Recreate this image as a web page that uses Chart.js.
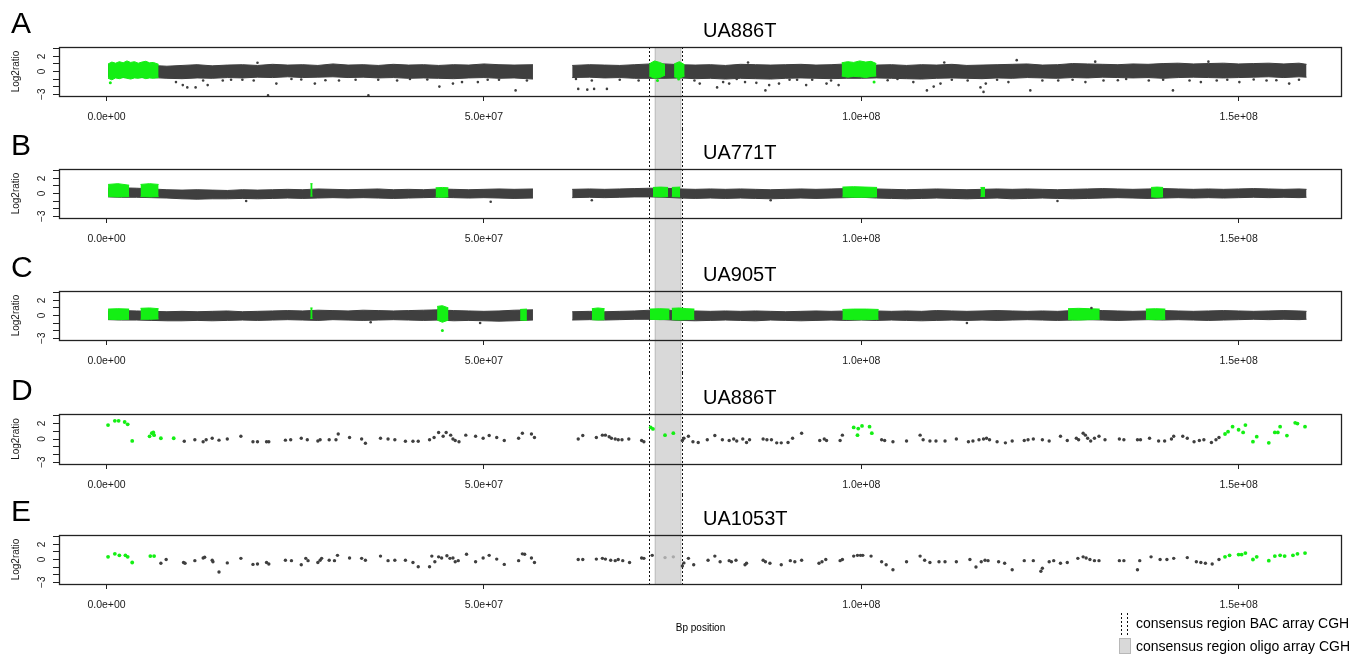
<!DOCTYPE html>
<html>
<head>
<meta charset="utf-8">
<script src="https://cdn.jsdelivr.net/npm/chart.js@4.4.1/dist/chart.umd.min.js"></script>
<style>
  html, body { margin: 0; padding: 0; background: #fff; }
  #wrap { position: relative; width: 1361px; height: 656px; overflow: hidden; }
  #wrap canvas { position: absolute; left: 0; }
</style>
</head>
<body>
<div id="wrap"></div>
<script>
// ---------- data (positions in Mb, values in log2 ratio) ----------
const xTicks = [0, 5e7, 1e8, 1.5e8];
const xTickLabels = ['0.0e+00', '5.0e+07', '1.0e+08', '1.5e+08'];
const yTicks = [-3, -2, -1, 0, 1, 2, 3];
const yTickLabels = ['\u22123', '', '', '0', '', '2', ''];
const panelLetters = ['A', 'B', 'C', 'D', 'E'];
const panelTitles = ['UA886T', 'UA771T', 'UA905T', 'UA886T', 'UA1053T'];
const bacRegion = [71.9, 76.2];
const oligoRegion = [72.7, 76.1];
const legendLabels = ['consensus region BAC array CGH', 'consensus region oligo array CGH'];

// dense probe clouds (A-C): upper / lower edge of the cloud
const bandX = [0.2, 2, 4, 6, 8, 10, 12, 14, 16, 18, 20, 22, 24, 26, 28, 30, 32, 34, 36, 38, 40, 42, 44, 46, 48, 50, 52, 54, 56.5, null,
  61.7, 64, 66, 68, 70, 72, 74, 76, 78, 80, 82, 84, 86, 88, 90, 92, 94, 96, 98, 100, 102, 104, 106, 108, 110, 112, 114, 116, 118, 120,
  122, 124, 126, 128, 130, 132, 134, 136, 138, 140, 142, 144, 146, 148, 150, 152, 154, 156, 158, 159];

const bandAHi = [0.9, 1.0, 0.9, 0.8, 0.7, 0.8, 0.9, 0.75, 0.85, 0.9, 0.8, 0.95, 0.85, 0.9, 0.8, 1.0, 0.85, 0.9, 0.8, 0.95, 0.85, 0.9, 0.8, 0.9, 0.85, 1.0, 0.9, 0.85, 0.9, null,
  0.8, 0.9, 0.85, 0.8, 0.9, 1.0, 1.0, 0.9, 0.85, 0.9, 0.8, 0.95, 0.9, 0.85, 0.9, 0.95, 0.85, 0.9, 1.0, 1.0, 0.85, 0.9, 0.8, 0.9, 0.85, 0.95, 0.8, 0.85, 0.9, 0.95,
  1.0, 0.85, 0.9, 1.05, 1.0, 0.95, 0.9, 1.0, 0.95, 1.05, 1.1, 1.0, 1.05, 1.1, 1.0, 1.05, 1.1, 1.0, 1.1, 0.95];
const bandALo = [-0.7, -0.75, -0.8, -0.8, -0.9, -0.95, -0.85, -0.9, -0.8, -0.85, -0.75, -0.8, -0.7, -0.8, -0.75, -0.7, -0.8, -0.75, -0.85, -0.8, -0.9, -0.85, -0.9, -0.95, -0.85, -0.8, -0.9, -0.85, -1.0, null,
  -0.8, -0.75, -0.85, -0.8, -0.9, -0.9, -0.9, -0.85, -0.95, -0.9, -1.0, -0.9, -0.95, -1.0, -0.9, -0.85, -0.9, -0.95, -0.9, -0.9, -0.85, -0.9, -0.95, -1.0, -0.9, -0.85, -0.9, -0.95, -0.85, -0.9,
  -0.8, -0.85, -0.9, -0.8, -0.85, -0.75, -0.8, -0.85, -0.8, -0.9, -0.8, -0.75, -0.8, -0.85, -0.8, -0.75, -0.7, -0.8, -0.7, -0.75];

const bandBHi = [0.7, 0.75, 0.7, 0.6, 0.5, 0.45, 0.5, 0.45, 0.4, 0.5, 0.45, 0.5, 0.55, 0.5, 0.6, 0.55, 0.5, 0.55, 0.6, 0.5, 0.55, 0.5, 0.6, 0.55, 0.5, 0.55, 0.6, 0.55, 0.6, null,
  0.55, 0.6, 0.55, 0.6, 0.65, 0.7, 0.7, 0.6, 0.55, 0.6, 0.55, 0.6, 0.55, 0.5, 0.55, 0.6, 0.55, 0.6, 0.65, 0.7, 0.6, 0.55, 0.5, 0.55, 0.6, 0.55, 0.5, 0.55, 0.6, 0.55,
  0.6, 0.55, 0.5, 0.55, 0.6, 0.65, 0.6, 0.55, 0.6, 0.65, 0.6, 0.55, 0.6, 0.55, 0.6, 0.65, 0.6, 0.55, 0.6, 0.55];
const bandBLo = [-0.45, -0.5, -0.5, -0.55, -0.6, -0.7, -0.75, -0.7, -0.7, -0.65, -0.7, -0.65, -0.6, -0.65, -0.6, -0.55, -0.6, -0.55, -0.6, -0.65, -0.6, -0.55, -0.5, -0.55, -0.6, -0.55, -0.6, -0.65, -0.6, null,
  -0.55, -0.5, -0.55, -0.5, -0.45, -0.45, -0.5, -0.6, -0.65, -0.6, -0.65, -0.6, -0.65, -0.7, -0.65, -0.6, -0.65, -0.6, -0.55, -0.5, -0.6, -0.65, -0.7, -0.65, -0.6, -0.65, -0.7, -0.65, -0.6, -0.7,
  -0.65, -0.6, -0.65, -0.7, -0.65, -0.6, -0.55, -0.6, -0.65, -0.6, -0.55, -0.6, -0.55, -0.6, -0.55, -0.5, -0.55, -0.5, -0.55, -0.5];

const bandCHi = [0.6, 0.65, 0.6, 0.55, 0.5, 0.55, 0.5, 0.55, 0.6, 0.5, 0.55, 0.6, 0.65, 0.6, 0.7, 0.65, 0.6, 0.7, 0.65, 0.6, 0.65, 0.7, 0.75, 0.65, 0.6, 0.55, 0.6, 0.7, 0.75, null,
  0.5, 0.55, 0.5, 0.55, 0.6, 0.7, 0.7, 0.65, 0.6, 0.55, 0.6, 0.55, 0.6, 0.55, 0.5, 0.55, 0.6, 0.55, 0.6, 0.65, 0.6, 0.55, 0.6, 0.55, 0.65, 0.6, 0.55, 0.6, 0.65, 0.6,
  0.55, 0.6, 0.55, 0.65, 0.7, 0.65, 0.6, 0.55, 0.6, 0.65, 0.6, 0.55, 0.6, 0.65, 0.6, 0.55, 0.6, 0.65, 0.6, 0.55];
const bandCLo = [-0.55, -0.6, -0.6, -0.65, -0.7, -0.7, -0.65, -0.7, -0.65, -0.6, -0.65, -0.6, -0.55, -0.6, -0.65, -0.55, -0.6, -0.65, -0.6, -0.55, -0.6, -0.65, -0.6, -0.7, -0.65, -0.7, -0.75, -0.7, -0.6, null,
  -0.6, -0.55, -0.6, -0.55, -0.5, -0.5, -0.55, -0.65, -0.7, -0.65, -0.6, -0.65, -0.7, -0.6, -0.65, -0.7, -0.65, -0.6, -0.65, -0.6, -0.65, -0.6, -0.65, -0.7, -0.65, -0.6, -0.65, -0.6, -0.65, -0.6,
  -0.55, -0.6, -0.65, -0.6, -0.55, -0.6, -0.65, -0.6, -0.55, -0.6, -0.55, -0.6, -0.65, -0.6, -0.55, -0.5, -0.55, -0.5, -0.55, -0.5];

// gained segments (green clouds), null separates segments
const greenAX = [0.2, 0.7, 1.2, 1.7, 2.2, 2.7, 3.2, 3.7, 4.2, 4.7, 5.2, 5.7, 6.2, 6.9, null,
  71.9, 72.6, 73.3, 74.0, null, 75.2, 75.9, 76.6, null, 97.4, 98.2, 99.0, 99.8, 100.6, 101.3, 102.0];
const greenAHi = [1.0, 1.25, 1.1, 1.3, 1.15, 1.4, 1.2, 1.3, 1.1, 1.25, 1.35, 1.15, 1.2, 0.95, null,
  1.0, 1.4, 1.2, 0.9, null, 1.0, 1.3, 0.9, null, 1.15, 1.3, 1.2, 1.4, 1.25, 1.35, 1.05];
const greenALo = [-0.9, -1.1, -0.85, -0.95, -0.8, -0.9, -1.0, -0.85, -0.9, -0.8, -0.95, -0.85, -0.9, -0.8, null,
  -0.6, -0.9, -0.8, -0.5, null, -0.7, -0.9, -0.6, null, -0.6, -0.75, -0.65, -0.7, -0.8, -0.65, -0.6];

const greenBX = [0.2, 1.5, 3.0, null, 4.5, 5.7, 6.9, null, 27.0, 27.3, null, 43.6, 44.5, 45.3, null, 72.4, 73.4, 74.4, null, 74.9, 76.0, null,
  97.5, 99, 100.5, 102.1, null, 115.8, 116.4, null, 138.4, 139.2, 140.0];
const greenBHi = [1.2, 1.3, 1.1, null, 1.2, 1.3, 1.2, null, 1.3, 1.3, null, 0.75, 0.8, 0.75, null, 0.8, 0.85, 0.8, null, 0.8, 0.85, null,
  0.85, 0.9, 0.85, 0.8, null, 0.8, 0.8, null, 0.8, 0.85, 0.8];
const greenBLo = [-0.4, -0.45, -0.4, null, -0.4, -0.45, -0.4, null, -0.35, -0.35, null, -0.45, -0.5, -0.45, null, -0.4, -0.45, -0.4, null, -0.4, -0.45, null,
  -0.45, -0.5, -0.5, -0.45, null, -0.4, -0.4, null, -0.45, -0.5, -0.45];

const greenCX = [0.2, 1.5, 3.0, null, 4.5, 5.7, 6.9, null, 27.0, 27.3, null, 43.8, 44.5, 45.3, null, 54.8, 55.7, null, 64.3, 65.1, 66.0, null,
  72.0, 73.3, 74.6, null, 74.9, 75.9, 76.9, 77.9, null, 97.5, 99, 100.7, 102.3, null, 127.4, 128.8, 130.2, 131.6, null, 137.7, 139.0, 140.3];
const greenCHi = [0.85, 0.9, 0.85, null, 0.95, 1.0, 0.9, null, 1.0, 1.0, null, 1.2, 1.3, 1.0, null, 0.8, 0.85, null, 0.9, 1.0, 0.9, null,
  0.85, 0.9, 0.85, null, 0.95, 1.0, 0.9, 0.85, null, 0.8, 0.85, 0.85, 0.8, null, 0.9, 0.95, 0.9, 0.85, null, 0.85, 0.9, 0.85];
const greenCLo = [-0.5, -0.55, -0.5, null, -0.5, -0.5, -0.45, null, -0.4, -0.4, null, -0.6, -0.9, -0.6, null, -0.6, -0.65, null, -0.55, -0.6, -0.55, null,
  -0.5, -0.55, -0.5, null, -0.55, -0.6, -0.55, -0.5, null, -0.5, -0.55, -0.55, -0.5, null, -0.55, -0.6, -0.55, -0.5, null, -0.5, -0.55, -0.5];

// single outlying probes in A-C
const outAX = [9.2, 10.1, 10.7, 11.8, 12.8, 13.4, 15.4, 18.0, 21.4, 22.5, 24.5, 27.6, 30.8, 34.7, 36.0, 40.2, 44.1, 45.9, 47.1, 49.2, 52.0, 54.2, 55.7,
  62.2, 62.5, 63.7, 64.3, 64.6, 66.3, 77.9, 78.6, 80.9, 81.7, 82.5, 83.5, 84.6, 86.1, 87.3, 87.8, 89.1, 90.5, 92.7, 93.5, 95.4, 97.0,
  104.8, 106.9, 108.7, 109.6, 110.5, 114.1, 115.8, 116.2, 116.5, 119.5, 120.6, 122.4, 126.1, 129.7, 132.1, 135.1, 138.1, 141.3, 145.0, 147.1, 150.1, 153.7, 156.7,
  16.5, 19.5, 25.8, 29.0, 33.0, 38.5, 42.5, 50.5, 68.0, 70.5, 91.5, 96.0, 103.5, 112.0, 118.0, 124.0, 128.0, 134.0, 140.0, 143.5, 148.5, 152.0, 155.0, 158.0,
  20.0, 85.0, 111.0, 131.0, 146.0];
const outAY = [-1.4, -1.8, -2.1, -2.1, -1.2, -1.8, -1.2, -1.1, -3.15, -1.6, -1.0, -1.6, -1.2, -3.15, -1.1, -1.0, -2.0, -1.6, -1.4, -1.4, -1.1, -2.5, -1.2,
  -1.0, -2.3, -2.4, -1.2, -2.3, -2.3, -1.2, -1.6, -2.1, -1.4, -1.6, -1.0, -1.4, -1.5, -2.5, -1.8, -1.6, -1.1, -1.8, -1.1, -1.6, -1.8,
  -1.0, -1.4, -2.5, -2.0, -1.6, -1.2, -2.1, -2.7, -1.6, -1.4, 1.5, -2.5, -1.2, -1.4, -1.2, -1.0, -1.2, -2.5, -1.4, -1.2, -1.4, -1.2, -1.6,
  -1.1, -1.2, -1.05, -1.15, -1.1, -1.2, -1.05, -1.1, -1.1, -1.2, -1.1, -1.2, -1.15, -1.1, -1.1, -1.2, -1.1, -1.15, -1.1, -1.2, -1.1, -1.05, -1.15, -1.1,
  1.15, 1.2, 1.2, 1.3, 1.3];
const grnPtAX = [0.5, 73.0, 75.8, 101.7];
const grnPtAY = [-1.5, -1.2, -1.0, -1.4];
const outBX = [18.5, 50.9, 64.3, 88.0, 126.0];
const outBY = [-1.0, -1.1, -0.9, -0.9, -1.0];
const outCX = [35.0, 49.5, 114.0, 130.5];
const outCY = [-0.9, -1.0, -1.0, 1.0];
const grnPtCX = [44.5];
const grnPtCY = [-2.0];

// BAC arrays (D, E)
const dGrayX = [10.3, 11.7, 12.8, 13.2, 14.0, 14.9, 16.0, 17.8, 19.4, 20.0, 21.2, 21.5, 23.7, 24.4, 25.8, 26.6, 28.0, 28.3, 29.5, 30.4,
  30.7, 32.2, 33.8, 34.3, 36.3, 37.3, 38.2, 39.6, 40.6, 41.3, 42.8, 43.4, 44.0, 44.6, 45.0, 45.6, 45.9, 46.2, 46.7, 47.6,
  48.9, 49.9, 50.7, 51.7, 52.7, 54.6, 55.1, 56.3, 56.7,
  62.5, 63.1, 64.9, 65.7, 66.1, 66.6, 66.9, 67.4, 67.8, 68.3, 69.2, 70.9, 71.2,
  76.3, 76.5, 77.1, 77.7, 78.4, 79.6, 80.6, 81.6, 82.5, 83.1, 83.5, 84.3, 84.8, 85.2, 87.0, 87.5, 88.1, 88.8, 89.4, 90.3,
  90.9, 92.1, 94.5, 95.1, 95.4, 97.2, 97.5,
  102.7, 103.1, 104.2, 106.0, 107.8, 108.2, 109.1, 109.9, 111.1, 112.6, 114.2, 114.8, 115.6, 116.2, 116.6, 117.0, 118.0, 119.1,
  120.0, 121.6, 122.1, 122.8, 124.0, 124.9, 126.4, 127.3, 128.5, 128.8, 129.4, 129.7, 130.0, 130.4, 130.9, 131.5, 132.3, 134.2,
  134.8, 136.6, 137.0, 138.2, 139.4, 140.2, 141.1, 141.4, 142.6, 143.2, 144.1, 144.8, 145.4, 146.4, 147.0, 147.4];
const dGrayY = [-0.3, -0.1, -0.35, -0.1, 0.1, -0.15, 0, 0.35, -0.35, -0.35, -0.35, -0.35, -0.15, -0.1, 0.1, -0.1, -0.25, -0.1, -0.1, -0.1,
  0.65, 0.2, 0, -0.55, 0.1, 0, -0.1, -0.3, -0.3, -0.3, -0.1, 0.2, 0.85, 0.35, 0.85, 0.5, 0, -0.2, -0.35, 0.5,
  0.35, 0.1, 0.45, 0.2, -0.2, 0.1, 0.75, 0.65, 0.2,
  0, 0.45, 0.2, 0.5, 0.5, 0.3, 0.1, 0, -0.1, -0.1, 0, -0.2, -0.35,
  -0.2, 0.1, 0.35, -0.35, -0.45, -0.1, 0.45, -0.1, -0.2, 0, -0.25, 0, -0.45, -0.1, 0, -0.1, -0.1, -0.5, -0.5, -0.45,
  0.1, 0.75, -0.2, 0, -0.2, -0.2, 0.5,
  -0.1, -0.2, -0.35, -0.25, 0.5, -0.1, -0.25, -0.25, -0.25, 0, -0.35, -0.25, -0.1, 0, 0.1, -0.1, -0.35, -0.5,
  -0.25, -0.2, -0.1, 0, -0.1, -0.25, 0.35, -0.2, 0.1, -0.1, 0.75, 0.5, 0.1, -0.25, 0.1, 0.35, -0.1, 0,
  -0.1, -0.1, -0.1, 0.1, -0.25, -0.25, 0, 0.35, 0.35, 0.1, -0.35, -0.2, -0.1, -0.45, -0.1, 0.2];
const dGreenX = [0.2, 1.1, 1.6, 2.4, 2.8, 3.4, 5.7, 6.0, 6.2, 6.3, 7.2, 8.9, 72.1, 72.4, 74.0, 75.1,
  99.0, 99.5, 99.6, 100.1, 101.1, 101.4,
  148.2, 148.6, 149.2, 150.0, 150.6, 150.9, 151.9, 152.4, 154.0, 154.8, 155.2, 155.5, 156.4, 157.5, 157.8, 158.8];
const dGreenY = [1.8, 2.35, 2.35, 2.2, 1.9, -0.25, 0.35, 0.75, 0.85, 0.5, 0.1, 0.1, 1.5, 1.3, 0.5, 0.75,
  1.5, 0.5, 1.35, 1.7, 1.6, 0.75,
  0.65, 0.95, 1.6, 1.2, 0.85, 1.8, -0.35, 0.3, -0.5, 0.85, 0.85, 1.6, 0.45, 2.1, 2.0, 1.6];

const eGrayX = [7.2, 7.9, 10.2, 10.4, 11.7, 12.8, 13.0, 14.0, 14.1, 14.9, 16.0, 17.8, 19.4, 20.0, 21.2, 21.5, 23.7, 24.5, 25.8, 26.4,
  26.7, 28.0, 28.3, 28.5, 29.5, 30.2, 30.6, 32.2, 33.8, 34.3, 36.3, 37.3, 38.2, 39.6, 40.6, 41.3, 42.8, 43.1, 43.5, 44.0,
  44.4, 45.1, 45.5, 45.9, 46.2, 46.6, 47.7, 48.9, 49.9, 50.7, 51.7, 52.7, 54.6, 55.1, 55.4, 56.3, 56.7,
  62.5, 63.1, 64.9, 65.7, 66.1, 66.8, 67.4, 67.8, 68.4, 69.3, 70.9, 71.2, 72.3,
  76.3, 76.5, 77.1, 77.8, 79.7, 80.6, 81.3, 82.5, 82.8, 83.4, 84.6, 84.8, 87.0, 87.3, 87.9, 89.4, 90.6, 91.2, 92.1, 94.4,
  94.8, 95.3, 97.2, 97.5, 99.0, 99.5, 99.9, 100.2, 101.3, 102.7, 103.3, 104.2, 106.0, 107.8, 108.4, 109.1, 110.3, 111.1, 112.6, 114.4,
  115.2, 115.9, 116.4, 116.8, 118.2, 119.0, 120.0, 121.6, 122.8, 123.8, 124.0, 124.9, 125.5, 126.4, 127.3, 128.7, 129.4, 129.8, 130.3, 130.9,
  131.5, 134.2, 134.8, 136.6, 136.9, 138.4, 139.6, 140.5, 141.4, 143.2, 144.4, 145.0, 145.6, 146.5, 147.4];
const eGrayY = [-0.5, 0, -0.4, -0.5, -0.15, 0.2, 0.3, -0.1, -0.3, -1.65, -0.45, 0.15, -0.65, -0.6, -0.4, -0.6, -0.1, -0.15, -0.7, 0.15,
  -0.15, -0.4, -0.1, 0.15, -0.1, -0.15, 0.55, 0.2, 0.15, -0.1, 0.45, -0.15, -0.1, -0.1, -0.4, -0.95, -0.95, 0.45, -0.3, 0.35,
  0.2, 0.5, 0.15, 0.2, -0.3, -0.15, 0.7, -0.3, 0.2, 0.55, 0.05, -0.65, -0.15, 0.75, 0.7, 0.2, -0.4,
  0, 0, 0.05, 0.15, 0.05, -0.1, -0.15, 0, -0.15, -0.4, 0.2, 0.15, 0.55,
  -0.85, -0.45, 0.15, -0.7, -0.1, 0.45, -0.3, -0.15, -0.3, -0.1, -0.7, -0.5, -0.1, -0.3, -0.5, -0.7, -0.15, -0.3, -0.1, -0.5,
  -0.3, 0, -0.15, 0, 0.45, 0.55, 0.55, 0.55, 0.45, -0.3, -0.7, -1.35, -0.3, 0.45, -0.1, -0.4, -0.3, -0.3, -0.3, 0,
  -1.0, -0.3, -0.1, -0.15, -0.3, -0.5, -1.35, -0.15, -0.15, -1.55, -1.15, -0.3, -0.15, -0.5, -0.4, 0.15, 0.35, 0.2, 0, -0.15,
  -0.15, -0.15, -0.15, -1.35, -0.15, 0.35, 0, 0, 0.15, 0.25, -0.3, -0.4, -0.5, -0.6, 0];
const eGreenX = [0.2, 1.1, 1.7, 2.5, 2.8, 3.4, 5.8, 6.3,
  148.2, 148.8, 150.0, 150.4, 150.9, 151.9, 152.4, 154.0, 154.8, 155.5, 156.1, 157.2, 157.8, 158.8];
const eGreenY = [0.35, 0.75, 0.55, 0.55, 0.35, -0.4, 0.45, 0.45,
  0.35, 0.55, 0.65, 0.65, 0.85, 0, 0.35, -0.15, 0.45, 0.55, 0.45, 0.55, 0.75, 0.85];
const ePaleX = [74.0, 75.1];
const ePaleY = [0.25, 0.35];

// ---------- layout ----------
const canvasTop = [0, 129, 251, 373, 495];
const canvasH = [129, 122, 122, 122, 161];
const boxTop = [47, 40, 40, 41, 40];
const boxH = [49, 49, 49, 50, 49];

const GRAY = '#3f3f3f';
const GREEN = '#14ef14';
const BAND = '#d9d9d9';
const FONT = "'Liberation Sans', Arial, Helvetica, sans-serif";
Chart.defaults.font.family = FONT;

const panels = [
  { hi: bandAHi, lo: bandALo, gx: greenAX, ghi: greenAHi, glo: greenALo, px: outAX, py: outAY, qx: grnPtAX, qy: grnPtAY, r: 1.3 },
  { hi: bandBHi, lo: bandBLo, gx: greenBX, ghi: greenBHi, glo: greenBLo, px: outBX, py: outBY, qx: [], qy: [], r: 1.3 },
  { hi: bandCHi, lo: bandCLo, gx: greenCX, ghi: greenCHi, glo: greenCLo, px: outCX, py: outCY, qx: grnPtCX, qy: grnPtCY, r: 1.3 },
  { px: dGrayX, py: dGrayY, qx: dGreenX, qy: dGreenY, r: 1.7 },
  { px: eGrayX, py: eGrayY, qx: eGreenX, qy: eGreenY, wx: ePaleX, wy: ePaleY, r: 1.7 }
];

const toPts = (xs, ys) => xs.map((x, i) => ({ x: x * 1e6, y: ys[i] }));

// cloud drawn as a filled area between its upper and lower edge, one pair per segment
function cloudSets(xs, hi, lo, color, order) {
  const out = [];
  let seg = [];
  const flush = () => {
    if (!seg.length) return;
    const common = { borderColor: color, backgroundColor: color, borderWidth: 1, pointRadius: 0, tension: 0, order: order };
    out.push(Object.assign({ data: seg.map(i => ({ x: xs[i] * 1e6, y: hi[i] })), fill: '+1' }, common));
    out.push(Object.assign({ data: seg.map(i => ({ x: xs[i] * 1e6, y: lo[i] })), fill: false }, common));
    seg = [];
  };
  xs.forEach((x, i) => { if (x === null) flush(); else seg.push(i); });
  flush();
  return out;
}

function pointSet(xs, ys, color, r, order) {
  return { data: toPts(xs, ys), showLine: false, pointRadius: r, pointHoverRadius: r,
    pointBackgroundColor: color, pointBorderWidth: 0, borderWidth: 0, order: order };
}

// shaded consensus region, dashed BAC borders, box, axis text and legend
const decor = {
  id: 'decor',
  beforeDatasetsDraw(chart, args, o) {
    const { ctx, chartArea, scales: { x } } = chart;
    const top = o.index === 0 ? chartArea.top : 0;
    const bottom = o.index === 4 ? chartArea.bottom : chart.height;
    const x0 = x.getPixelForValue(oligoRegion[0] * 1e6);
    const x1 = x.getPixelForValue(oligoRegion[1] * 1e6);
    ctx.save();
    ctx.fillStyle = BAND;
    ctx.fillRect(x0, top, x1 - x0, bottom - top);
    ctx.strokeStyle = '#b8b8b8';
    ctx.lineWidth = 1;
    [x0, x1].forEach(px => { ctx.beginPath(); ctx.moveTo(px, top); ctx.lineTo(px, bottom); ctx.stroke(); });
    ctx.strokeStyle = '#111';
    ctx.setLineDash([2, 2]);
    bacRegion.forEach(v => {
      const px = Math.round(x.getPixelForValue(v * 1e6)) + 0.5;
      ctx.beginPath(); ctx.moveTo(px, top); ctx.lineTo(px, bottom); ctx.stroke();
    });
    ctx.restore();
  },
  afterDraw(chart, args, o) {
    const { ctx, chartArea, scales: { y } } = chart;
    const i = o.index;
    ctx.save();
    ctx.strokeStyle = '#222';
    ctx.lineWidth = 1.3;
    ctx.strokeRect(chartArea.left + 0.5, chartArea.top + 0.5, chartArea.right - chartArea.left - 1, chartArea.bottom - chartArea.top);
    ctx.fillStyle = '#1a1a1a';
    // y tick labels, turned like the source
    ctx.font = '10px ' + FONT;
    ctx.textAlign = 'center';
    ctx.textBaseline = 'middle';
    yTicks.forEach((v, k) => {
      if (!yTickLabels[k]) return;
      ctx.save();
      ctx.translate(42, y.getPixelForValue(v));
      ctx.rotate(-Math.PI / 2);
      ctx.fillText(yTickLabels[k], 0, 0);
      ctx.restore();
    });
    ctx.save();
    ctx.translate(16, (chartArea.top + chartArea.bottom) / 2);
    ctx.rotate(-Math.PI / 2);
    ctx.fillText('Log2ratio', 0, 0);
    ctx.restore();
    // panel letter and sample name
    ctx.textAlign = 'left';
    ctx.fillStyle = '#000';
    ctx.font = '30px ' + FONT;
    ctx.fillText(panelLetters[i], 11, chartArea.top - 22);
    ctx.font = '20px ' + FONT;
    ctx.fillText(panelTitles[i], 703, chartArea.top - 16);
    if (i === 4) {
      ctx.font = '10px ' + FONT;
      ctx.textAlign = 'center';
      ctx.fillText('Bp position', (chartArea.left + chartArea.right) / 2, 133);
      // legend
      ctx.textAlign = 'left';
      ctx.font = '14px ' + FONT;
      ctx.fillText(legendLabels[0], 1136, 129);
      ctx.fillText(legendLabels[1], 1136, 152);
      ctx.strokeStyle = '#111';
      ctx.lineWidth = 1;
      ctx.setLineDash([2, 2]);
      [1121.5, 1127.5].forEach(px => { ctx.beginPath(); ctx.moveTo(px, 118); ctx.lineTo(px, 141); ctx.stroke(); });
      ctx.setLineDash([]);
      ctx.fillStyle = BAND;
      ctx.fillRect(1119, 143, 12, 16);
      ctx.strokeStyle = '#b8b8b8';
      ctx.strokeRect(1119.5, 143.5, 11, 15);
    }
    ctx.restore();
  }
};

const wrap = document.getElementById('wrap');
panels.forEach((p, i) => {
  const cv = document.createElement('canvas');
  cv.style.top = canvasTop[i] + 'px';
  cv.style.width = '1361px';
  cv.style.height = canvasH[i] + 'px';
  cv.width = 1361;
  cv.height = canvasH[i];
  wrap.appendChild(cv);

  let datasets = [];
  if (p.hi) datasets = datasets.concat(cloudSets(bandX, p.hi, p.lo, GRAY, 6));
  if (p.gx) datasets = datasets.concat(cloudSets(p.gx, p.ghi, p.glo, GREEN, 4));
  datasets.push(pointSet(p.px, p.py, GRAY, p.r, 2));
  if (p.qx.length) datasets.push(pointSet(p.qx, p.qy, GREEN, p.r + 0.2, 1));
  if (p.wx) datasets.push(pointSet(p.wx, p.wy, '#a9a9a9', p.r, 1));

  new Chart(cv.getContext('2d'), {
    type: 'line',
    data: { datasets: datasets },
    plugins: [decor],
    options: {
      responsive: false,
      animation: false,
      events: [],
      layout: { padding: { left: 0, right: 19, top: boxTop[i], bottom: 0 } },
      plugins: {
        legend: { display: false },
        tooltip: { enabled: false },
        decor: { index: i }
      },
      scales: {
        x: {
          type: 'linear',
          min: -6.3e6,
          max: 1.637e8,
          afterBuildTicks: s => { s.ticks = xTicks.map(v => ({ value: v })); },
          afterFit: s => { s.height = canvasH[i] - boxTop[i] - boxH[i]; },
          border: { display: false },
          grid: { drawOnChartArea: false, drawTicks: true, tickLength: 5, color: '#222', lineWidth: 1 },
          ticks: {
            autoSkip: false, maxRotation: 0, padding: 10, color: '#1a1a1a',
            font: { size: 10.5 },
            callback: v => xTickLabels[xTicks.indexOf(v)] || ''
          }
        },
        y: {
          min: -3.24,
          max: 3.24,
          afterBuildTicks: s => { s.ticks = yTicks.map(v => ({ value: v })); },
          afterFit: s => { s.width = 59; },
          border: { display: false },
          grid: { drawOnChartArea: false, drawTicks: true, tickLength: 6, color: '#222', lineWidth: 1 },
          ticks: { display: false }
        }
      }
    }
  });
});
</script>
</body>
</html>
